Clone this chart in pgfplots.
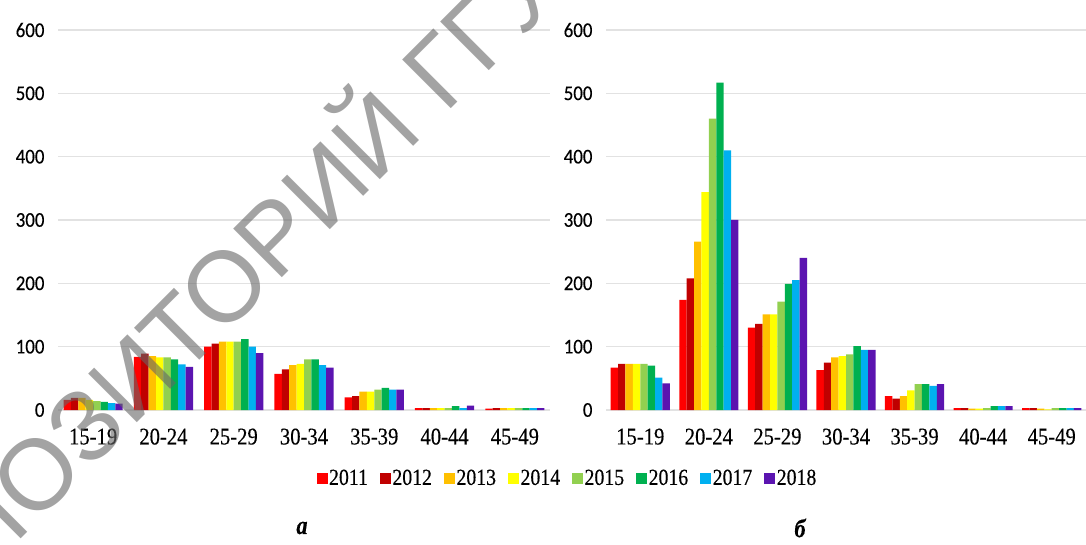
\documentclass[border=0pt]{standalone}
\usepackage{fontspec}
\setmainfont[FakeStretch=0.86,FakeBold=0.3]{Liberation Serif}
\newfontfamily\tickfont[FakeStretch=0.9,FakeBold=0.3]{Carlito}
\newfontfamily\wmfont{Liberation Sans}
\usepackage{pgfplots}
\pgfplotsset{compat=1.18}
\usepackage{pgfplotstable}

\definecolor{c11}{HTML}{FF0000}
\definecolor{c12}{HTML}{C00000}
\definecolor{c13}{HTML}{FFC000}
\definecolor{c14}{HTML}{FFFF00}
\definecolor{c15}{HTML}{92D050}
\definecolor{c16}{HTML}{00B050}
\definecolor{c17}{HTML}{00B0F0}
\definecolor{c18}{HTML}{5B14B0}
\definecolor{gridgray}{HTML}{E2E2E2}

% left panel (a)
\pgfplotstableread{
x  y2011 y2012 y2013 y2014 y2015 y2016 y2017 y2018
0  16    19    19    16    14    13    11    10
1  84    89    85    83    83    80    72    68
2  100   105   108   108   108   112   100   90
3  57    64    71    73    80    80    71    67
4  20    22    29    29    32    35    32    32
5  3     3     3     3     3     6     3     7
6  2     3     3     3     3     3     3     3
}\dataA

% right panel (b)
\pgfplotstableread{
x  y2011 y2012 y2013 y2014 y2015 y2016 y2017 y2018
0  67    73    73    73    73    70    51    42
1  174   208   266   344   460   517   410   300
2  130   136   151   151   171   199   205   240
3  63    75    83    85    88    101   95    95
4  22    18    22    31    41    41    38    41
5  3     3     2     2     3     6     6     6
6  3     3     2     1     3     3     3     3
}\dataB

\pgfplotsset{panel/.style={
  scale only axis, height=380pt,
  ymin=0, ymax=600, ytick={0,100,...,600},
  xmin=-0.5, xmax=6.5, xtick={0,...,6},
  xticklabels={15-19,20-24,25-29,30-34,35-39,40-44,45-49},
  ybar=0pt, bar width=7.4pt,
  axis line style={draw=none}, major tick length=0pt,
  ymajorgrids, grid style={color=gridgray, line width=1.2pt},
  /pgf/number format/assume math mode=true,
  yticklabel style={font=\tickfont\fontsize{21}{21}\selectfont, text=black, xshift=-10pt},
  xticklabel style={font=\fontsize{24}{24}\selectfont, text=black, yshift=-15pt},
  every axis plot/.append style={draw=none},
  legend image code/.code={\fill[##1] (0pt,-5.5pt) rectangle (11pt,5.5pt);},
}}

\begin{document}
\begin{tikzpicture}
\path[use as bounding box] (0pt,0pt) rectangle (1086pt,544pt);

\begin{axis}[panel, at={(58pt,134pt)}, anchor=south west, width=492pt,
  legend columns=8,
  legend style={at={(1.035,-0.179)}, anchor=center, draw=none, fill=none,
    font=\fontsize{23}{23}\selectfont,
    nodes={inner sep=1.5pt},
    /tikz/every even column/.append style={column sep=10.5pt}},
]
\addplot[fill=c11] table[x=x,y=y2011] {\dataA};
\addplot[fill=c12] table[x=x,y=y2012] {\dataA};
\addplot[fill=c13] table[x=x,y=y2013] {\dataA};
\addplot[fill=c14] table[x=x,y=y2014] {\dataA};
\addplot[fill=c15] table[x=x,y=y2015] {\dataA};
\addplot[fill=c16] table[x=x,y=y2016] {\dataA};
\addplot[fill=c17] table[x=x,y=y2017] {\dataA};
\addplot[fill=c18] table[x=x,y=y2018] {\dataA};
\legend{2011,2012,2013,2014,2015,2016,2017,2018}
\end{axis}

\begin{axis}[panel, at={(606pt,134pt)}, anchor=south west, width=480pt]
\addplot[fill=c11] table[x=x,y=y2011] {\dataB};
\addplot[fill=c12] table[x=x,y=y2012] {\dataB};
\addplot[fill=c13] table[x=x,y=y2013] {\dataB};
\addplot[fill=c14] table[x=x,y=y2014] {\dataB};
\addplot[fill=c15] table[x=x,y=y2015] {\dataB};
\addplot[fill=c16] table[x=x,y=y2016] {\dataB};
\addplot[fill=c17] table[x=x,y=y2017] {\dataB};
\addplot[fill=c18] table[x=x,y=y2018] {\dataB};
\end{axis}

\node at (302pt,16pt) {\fontsize{26}{26}\selectfont\bfseries\itshape а};
\node at (800pt,16pt) {\fontsize{26}{26}\selectfont\bfseries\itshape б};

% watermark
\node[rotate=45, anchor=base west, inner sep=0pt, text=black!60, text opacity=0.6]
  at (-112pt,-128pt) {\wmfont\fontsize{100}{100}\selectfont РЕПОЗИТОРИЙ ГГУ};
\end{tikzpicture}
\end{document}
